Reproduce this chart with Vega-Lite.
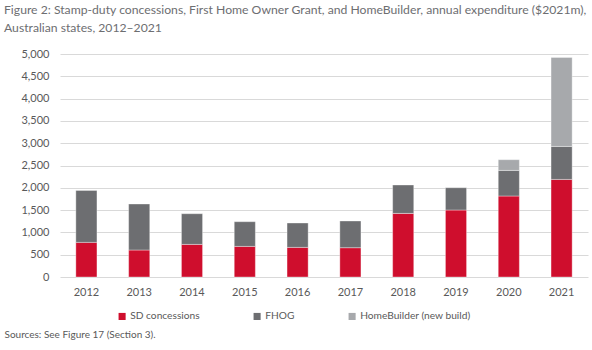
{
  "$schema": "https://vega.github.io/schema/vega-lite/v6.json",
  "width": 528,
  "height": 223,
  "autosize": {"type": "none"},
  "padding": {"left": 60, "top": 54, "right": 4, "bottom": 73},
  "background": "white",
  "title": {
    "text": ["Figure 2: Stamp-duty concessions, First Home Owner Grant, and HomeBuilder, annual expenditure ($2021m),", "Australian states, 2012–2021"],
    "anchor": "start",
    "frame": "group",
    "dx": -56,
    "offset": 14,
    "font": "Lato",
    "fontSize": 12.2,
    "fontWeight": "normal",
    "color": "#6d6e71",
    "lineHeight": 18
  },
  "data": {
    "values": [
      {"year": "2012", "series": "SD concessions", "value": 776},
      {"year": "2012", "series": "FHOG", "value": 1166},
      {"year": "2013", "series": "SD concessions", "value": 605},
      {"year": "2013", "series": "FHOG", "value": 1032},
      {"year": "2014", "series": "SD concessions", "value": 731},
      {"year": "2014", "series": "FHOG", "value": 688},
      {"year": "2015", "series": "SD concessions", "value": 686},
      {"year": "2015", "series": "FHOG", "value": 554},
      {"year": "2016", "series": "SD concessions", "value": 664},
      {"year": "2016", "series": "FHOG", "value": 547},
      {"year": "2017", "series": "SD concessions", "value": 657},
      {"year": "2017", "series": "FHOG", "value": 599},
      {"year": "2018", "series": "SD concessions", "value": 1426},
      {"year": "2018", "series": "FHOG", "value": 637},
      {"year": "2019", "series": "SD concessions", "value": 1502},
      {"year": "2019", "series": "FHOG", "value": 500},
      {"year": "2020", "series": "SD concessions", "value": 1816},
      {"year": "2020", "series": "FHOG", "value": 574},
      {"year": "2020", "series": "HomeBuilder (new build)", "value": 240},
      {"year": "2021", "series": "SD concessions", "value": 2188},
      {"year": "2021", "series": "FHOG", "value": 740},
      {"year": "2021", "series": "HomeBuilder (new build)", "value": 1996}
    ]
  },
  "transform": [
    {"calculate": "indexof(['SD concessions','FHOG','HomeBuilder (new build)'], datum.series)", "as": "ord"}
  ],
  "mark": {"type": "bar", "stroke": "white", "strokeWidth": 0.6, "strokeOpacity": 0.6},
  "encoding": {
    "x": {
      "field": "year",
      "type": "nominal",
      "scale": {"paddingInner": 0.6, "paddingOuter": 0.3},
      "axis": {
        "labelAngle": 0,
        "domain": false,
        "ticks": false,
        "labelPadding": 9,
        "labelFont": "Lato",
        "labelFontSize": 11,
        "labelColor": "#595959",
        "title": "Sources: See Figure 17 (Section 3).",
        "titleX": -56,
        "titleY": 52,
        "titleAlign": "left",
        "titleAnchor": "start",
        "titleFont": "Lato",
        "titleFontSize": 10,
        "titleFontWeight": "normal",
        "titleColor": "#595959"
      }
    },
    "y": {
      "field": "value",
      "type": "quantitative",
      "stack": "zero",
      "scale": {"domain": [0, 5000]},
      "axis": {
        "values": [0, 500, 1000, 1500, 2000, 2500, 3000, 3500, 4000, 4500, 5000],
        "format": ",d",
        "title": null,
        "domain": false,
        "ticks": false,
        "labelPadding": 11,
        "labelFont": "Lato",
        "labelFontSize": 11,
        "labelColor": "#595959",
        "gridColor": "#d9d9d9",
        "gridWidth": 1.2
      }
    },
    "color": {
      "field": "series",
      "type": "nominal",
      "scale": {
        "domain": ["SD concessions", "FHOG", "HomeBuilder (new build)"],
        "range": ["#cf0e2d", "#6d6e71", "#a7a9ac"]
      },
      "legend": {
        "title": null,
        "orient": "none",
        "legendX": 57,
        "legendY": 257,
        "direction": "horizontal",
        "columns": 3,
        "columnPadding": 52,
        "symbolType": "square",
        "symbolSize": 50,
        "symbolStrokeWidth": 0,
        "labelOffset": 3,
        "labelFont": "Lato",
        "labelFontSize": 10.2,
        "labelColor": "#595959"
      }
    },
    "order": {"field": "ord", "type": "quantitative"}
  },
  "config": {"view": {"stroke": null}}
}
